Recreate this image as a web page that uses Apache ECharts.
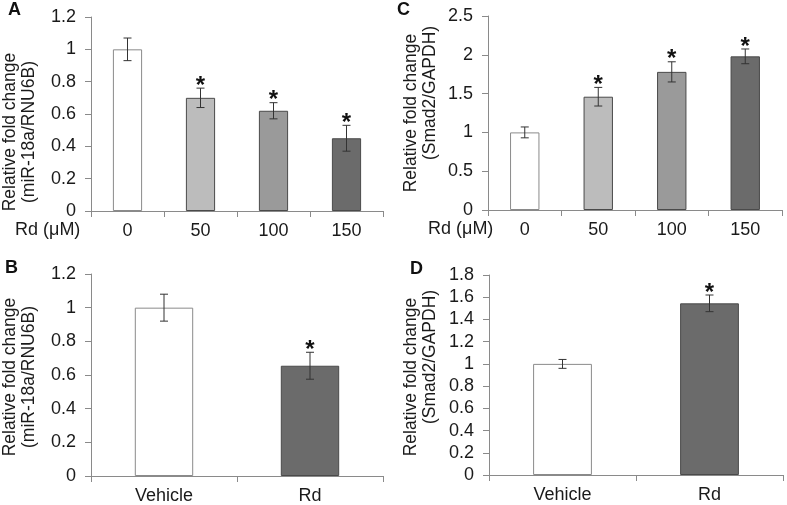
<!DOCTYPE html>
<html>
<head>
<meta charset="utf-8">
<script src="https://cdn.jsdelivr.net/npm/echarts@6/dist/echarts.min.js"></script>
<style>
html,body{margin:0;padding:0;background:#fff;}
#chart{width:787px;height:505px;}
</style>
</head>
<body>
<div id="chart"></div>
<script>
// ---- data ----
var doseCategories = ['0', '50', '100', '150'];
var treatCategories = ['Vehicle', 'Rd'];

var aValues = [1.00, 0.70, 0.62, 0.45];
var aErrors = [0.07, 0.06, 0.05, 0.08];
var aStars  = [false, true, true, true];

var cValues = [1.00, 1.46, 1.78, 1.98];
var cErrors = [0.07, 0.12, 0.13, 0.095];
var cStars  = [false, true, true, true];

var bValues = [1.00, 0.655];
var bErrors = [0.08, 0.08];
var bStars  = [false, true];

var dValues = [1.00, 1.545];
var dErrors = [0.04, 0.075];
var dStars  = [false, true];

var doseColors  = ['#ffffff', '#bcbcbc', '#9a9a9a', '#6b6b6b'];
var treatColors = ['#ffffff', '#6b6b6b'];

var yMaxA = 1.2, yMaxB = 1.2, yMaxC = 2.5, yMaxD = 1.8;
var yStepA = 0.2, yStepB = 0.2, yStepC = 0.5, yStepD = 0.2;

var nameLine1 = 'Relative fold change';
var nameLine2A = '(miR-18a/RNU6B)';
var nameLine2C = '(Smad2/GAPDH)';
var doseAxisLabel = 'Rd (\u03bcM)';

// ---- chart ----
var FONT = '"Liberation Sans", Arial, sans-serif';
var TXT = '#1a1a1a';
var AXIS = '#8a8a8a';

var chart = echarts.init(document.getElementById('chart'), null, {renderer: 'canvas'});

var grids = [
  {left: 89,  top: 17,  width: 294, height: 194},
  {left: 488, top: 16,  width: 294, height: 194},
  {left: 89,  top: 274, width: 294, height: 203},
  {left: 489, top: 275, width: 294, height: 200}
];

function xAxisFor(i, cats) {
  return {
    type: 'category', gridIndex: i, data: cats,
    axisLine: {lineStyle: {color: AXIS, width: 1}},
    axisTick: {show: true, alignWithLabel: false, length: 6, lineStyle: {color: AXIS}},
    axisLabel: {color: TXT, fontSize: 18, fontFamily: FONT, margin: 11}
  };
}
function yAxisFor(i, max, step, line2, gap, shiftDown, line2Shift) {
  return {
    type: 'value', gridIndex: i, min: 0, max: max, interval: step,
    name: '{a|' + nameLine1 + '}\n{b|' + line2 + '}',
    nameLocation: 'middle', nameRotate: 90, nameGap: gap,
    nameTextStyle: {
      color: TXT, fontSize: 17.5, fontFamily: FONT, lineHeight: 19,
      padding: [0, shiftDown * 2, 0, 0],
      rich: {
        a: {color: TXT, fontSize: 17.5, fontFamily: FONT, lineHeight: 19},
        b: {color: TXT, fontSize: 17.5, fontFamily: FONT, lineHeight: 19, padding: [0, 0, 0, line2Shift * 2]}
      }
    },
    axisLine: {show: true, lineStyle: {color: AXIS, width: 1}},
    axisTick: {show: true, length: 6, lineStyle: {color: AXIS}},
    axisLabel: {color: TXT, fontSize: 18, fontFamily: FONT, margin: 15},
    splitLine: {show: false}
  };
}

function barSeries(i, values, colors) {
  return {
    type: 'bar', xAxisIndex: i, yAxisIndex: i, barWidth: '40%',
    data: values.map(function (v, k) {
      return {value: v, itemStyle: {color: colors[k], borderColor: k === 0 ? '#8a8a8a' : '#4a4a4a', borderWidth: 1}};
    }),
    silent: true
  };
}

function errSeries(i, values, errs, stars) {
  return {
    type: 'custom', xAxisIndex: i, yAxisIndex: i, silent: true, z: 5,
    data: values.map(function (v, k) { return [k, v - errs[k], v + errs[k], stars[k] ? 1 : 0]; }),
    renderItem: function (params, api) {
      var idx = api.value(0);
      var lo = api.coord([idx, api.value(1)]);
      var hi = api.coord([idx, api.value(2)]);
      var cap = 4;
      var st = {stroke: '#333', lineWidth: 1};
      var children = [
        {type: 'line', shape: {x1: lo[0], y1: lo[1], x2: hi[0], y2: hi[1]}, style: st},
        {type: 'line', shape: {x1: lo[0] - cap, y1: lo[1], x2: lo[0] + cap, y2: lo[1]}, style: st},
        {type: 'line', shape: {x1: hi[0] - cap, y1: hi[1], x2: hi[0] + cap, y2: hi[1]}, style: st}
      ];
      if (api.value(3) === 1) {
        children.push({type: 'text', style: {
          text: '*', x: hi[0], y: hi[1] + 10, textAlign: 'center', textVerticalAlign: 'bottom',
          fontSize: 24, fontWeight: 'bold', fontFamily: FONT, fill: '#111'
        }});
      }
      return {type: 'group', children: children};
    }
  };
}

function letter(t, x, y) {
  return {type: 'text', left: x, top: y, style: {text: t, fontSize: 18, fontWeight: 'bold', fontFamily: FONT, fill: '#111'}};
}

var option = {
  backgroundColor: '#ffffff',
  animation: false,
  grid: grids,
  xAxis: [xAxisFor(0, doseCategories), xAxisFor(1, doseCategories), xAxisFor(2, treatCategories), xAxisFor(3, treatCategories)],
  yAxis: [
    yAxisFor(0, yMaxA, yStepA, nameLine2A, 52, 18, 0),
    yAxisFor(1, yMaxC, yStepC, nameLine2C, 48, 0, 20),
    yAxisFor(2, yMaxB, yStepB, nameLine2A, 52, 2, 0),
    yAxisFor(3, yMaxD, yStepD, nameLine2C, 49, 2, 20)
  ],
  series: [
    barSeries(0, aValues, doseColors), errSeries(0, aValues, aErrors, aStars),
    barSeries(1, cValues, doseColors), errSeries(1, cValues, cErrors, cStars),
    barSeries(2, bValues, treatColors), errSeries(2, bValues, bErrors, bStars),
    barSeries(3, dValues, treatColors), errSeries(3, dValues, dErrors, dStars)
  ],
  graphic: [
    letter('A', 8, 1), letter('C', 397, 1), letter('B', 5, 259), letter('D', 410, 260),
    {type: 'text', left: 15, top: 221, style: {text: doseAxisLabel, fontSize: 18, fontFamily: FONT, fill: TXT}},
    {type: 'text', left: 428, top: 220, style: {text: doseAxisLabel, fontSize: 18, fontFamily: FONT, fill: TXT}}
  ]
};
chart.setOption(option);
</script>
</body>
</html>
